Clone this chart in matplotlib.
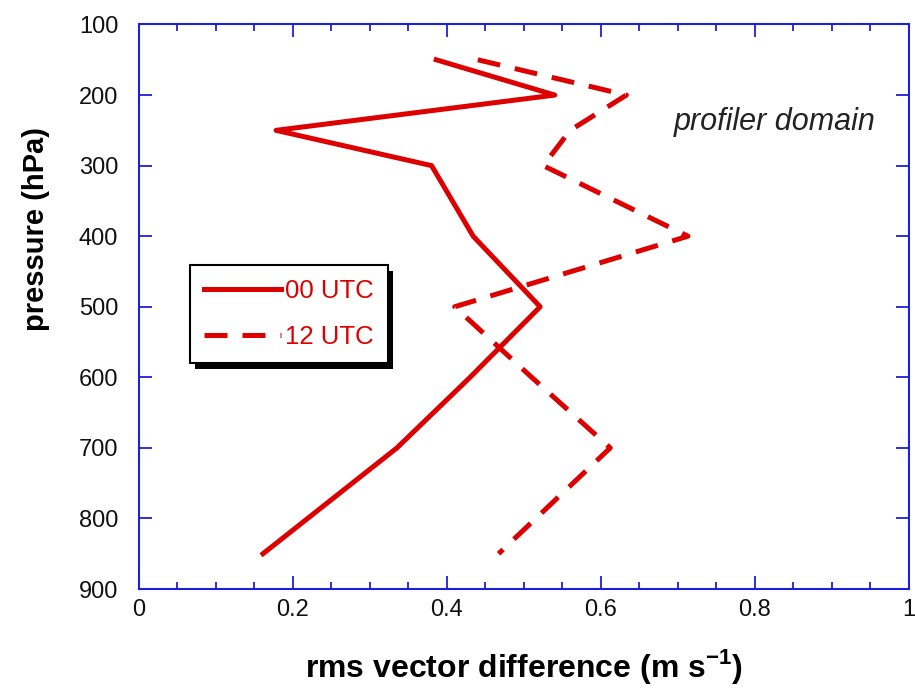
import matplotlib
matplotlib.use("Agg")
import matplotlib.pyplot as plt
import matplotlib.patheffects as pe
from matplotlib.ticker import MultipleLocator

# pressure levels (hPa) and rms vector difference (m/s)
levels = [150, 200, 250, 300, 400, 500, 600, 700, 850]
rms_00utc = [0.386, 0.540, 0.178, 0.380, 0.434, 0.521, 0.430, 0.335, 0.161]
rms_12utc = [0.440, 0.633, 0.560, 0.525, 0.713, 0.410, 0.510, 0.612, 0.467]
xtick_labels = ["0", "0.2", "0.4", "0.6", "0.8", "1"]

blue = "#1f1fd9"
red = "#dd0000"

plt.rcParams['font.family'] = ['Liberation Sans', 'DejaVu Sans']
plt.rcParams['mathtext.fontset'] = 'custom'
plt.rcParams['mathtext.rm'] = 'Liberation Sans'
plt.rcParams['mathtext.bf'] = 'Liberation Sans:bold'

fig = plt.figure(figsize=(9.15, 6.92), dpi=100)
ax = fig.add_axes([0.1519, 0.1488, 0.8415, 0.8158])

ax.plot(rms_00utc, levels, '-', color=red, lw=3.6, label="00 UTC",
        solid_joinstyle='round')
ax.plot(rms_12utc, levels, '--', color=red, lw=3.6, label="12 UTC",
        dashes=(4.6, 3.0), dash_capstyle='butt', dash_joinstyle='round')

ax.set_xlim(0, 1)
ax.set_ylim(900, 100)
ax.set_xticks([0, 0.2, 0.4, 0.6, 0.8, 1])
ax.set_xticklabels(xtick_labels)
ax.xaxis.set_minor_locator(MultipleLocator(0.05))
ax.yaxis.set_major_locator(MultipleLocator(100))

for s in ax.spines.values():
    s.set_color(blue)
    s.set_linewidth(1.5)
ax.tick_params(which='both', direction='in', color=blue, width=1.3,
               top=True, right=True, labelsize=17, labelcolor='#111111')
ax.tick_params(which='major', length=9.5)
ax.tick_params(which='minor', length=5)
ax.tick_params(axis='x', pad=7)
ax.tick_params(axis='y', pad=15)

ax.set_xlabel("rms vector difference (m s$^{\\mathbf{-1}}$)", fontsize=23,
              fontweight='bold', labelpad=19)
ax.set_ylabel("pressure (hPa)", fontsize=21, fontweight='bold')
ax.yaxis.set_label_coords(-0.116, 0.638)

ax.text(0.694, 0.827, "profiler domain", transform=ax.transAxes,
        fontsize=22, style='italic', color='#222222', va='center')

leg = ax.legend(loc='upper left', bbox_to_anchor=(0.066, 0.574),
                fontsize=18.5, labelcolor=red, frameon=True, fancybox=False,
                framealpha=1, handlelength=3.0, handletextpad=0.15,
                labelspacing=0.85, borderpad=0.55, borderaxespad=0)
leg.get_frame().set_edgecolor('black')
leg.get_frame().set_linewidth(1.5)
leg.get_frame().set_path_effects([
    pe.SimplePatchShadow(offset=(4, -4), shadow_rgbFace='black', alpha=1),
    pe.Normal()])

fig.savefig("out.png", dpi=100)
